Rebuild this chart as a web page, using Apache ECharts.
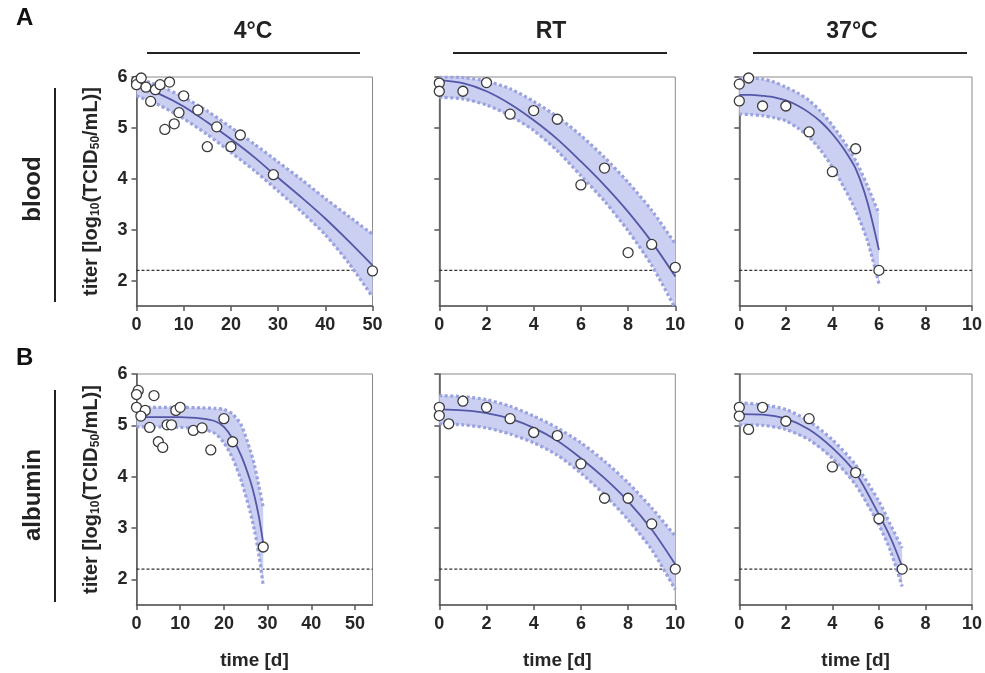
<!DOCTYPE html>
<html><head><meta charset="utf-8">
<script src="https://cdn.jsdelivr.net/npm/echarts@6/dist/echarts.min.js"></script>
<style>html,body{margin:0;padding:0;background:#fff}#c{width:985px;height:673px}</style>
</head><body><div id="c"></div>
<script>
// ---------- data ----------
const LOD = 2.2;
const yTicks = [2, 3, 4, 5, 6];
const xTicks50 = [0, 10, 20, 30, 40, 50];
const xTicks10 = [0, 2, 4, 6, 8, 10];
const rowLabels = ['blood', 'albumin'];
const colLabels = ['4°C', 'RT', '37°C'];

// blood, 4°C
const bl4_t = [0, 0, 1, 2, 3, 4, 5, 6, 7, 8, 9, 10, 13, 15, 17, 20, 22, 29, 50];
const bl4_v = [5.92, 5.85, 5.98, 5.80, 5.52, 5.75, 5.85, 4.97, 5.90, 5.08, 5.30, 5.63, 5.35, 4.63, 5.02, 4.63, 4.86, 4.08, 2.19];
const bl4_fitT = [0, 5, 10, 15, 20, 25, 30, 35, 40, 45, 50];
const bl4_fit = [5.82, 5.66, 5.42, 5.11, 4.78, 4.42, 4.02, 3.63, 3.22, 2.77, 2.30];
const bl4_up = [5.98, 5.82, 5.60, 5.33, 5.01, 4.68, 4.33, 3.98, 3.61, 3.26, 2.91];
const bl4_lo = [5.63, 5.44, 5.18, 4.87, 4.52, 4.16, 3.76, 3.35, 2.90, 2.34, 1.68];

// blood, RT
const blRT_t = [0, 0, 1, 2, 3, 4, 5, 6, 7, 8, 9, 10];
const blRT_v = [5.88, 5.72, 5.72, 5.89, 5.27, 5.34, 5.17, 3.88, 4.21, 2.55, 2.71, 2.26];
const blRT_fitT = [0, 1, 2, 3, 4, 5, 6, 7, 8, 9, 10];
const blRT_fit = [5.94, 5.88, 5.72, 5.47, 5.15, 4.78, 4.34, 3.87, 3.35, 2.76, 2.08];
const blRT_up = [6.0, 5.99, 5.92, 5.77, 5.52, 5.22, 4.85, 4.42, 3.93, 3.38, 2.72];
const blRT_lo = [5.60, 5.57, 5.45, 5.24, 4.95, 4.55, 4.06, 3.56, 2.98, 2.30, 1.45];

// blood, 37°C
const bl37_t = [0, 0.4, 0, 1, 2, 3, 4, 5, 6];
const bl37_v = [5.86, 5.98, 5.53, 5.43, 5.43, 4.92, 4.14, 4.59, 2.20];
const bl37_fitT = [0, 0.5, 1, 1.5, 2, 2.5, 3, 3.5, 4, 4.5, 5, 5.5, 6];
const bl37_fit = [5.65, 5.65, 5.63, 5.60, 5.54, 5.44, 5.30, 5.12, 4.88, 4.58, 4.20, 3.55, 2.60];
const bl37_up = [5.98, 5.98, 5.96, 5.90, 5.80, 5.69, 5.54, 5.32, 5.05, 4.73, 4.36, 3.87, 3.31];
const bl37_lo = [5.27, 5.26, 5.24, 5.20, 5.14, 5.00, 4.82, 4.56, 4.23, 3.83, 3.38, 2.79, 1.94];

// albumin, 4°C
const al4_t = [0.4, 0, 0, 2, 1, 3, 4, 5, 6, 7, 8, 9, 10, 13, 15, 17, 20, 22, 29];
const al4_v = [5.68, 5.60, 5.35, 5.29, 5.18, 4.96, 5.58, 4.68, 4.57, 5.01, 5.01, 5.29, 5.35, 4.90, 4.95, 4.52, 5.13, 4.68, 2.63];
const al4_fitT = [0, 5, 10, 15, 18, 20, 22, 24, 26, 27, 28, 29];
const al4_fit = [5.16, 5.16, 5.16, 5.13, 5.08, 4.97, 4.74, 4.40, 3.93, 3.62, 3.22, 2.70];
const al4_up = [5.35, 5.35, 5.35, 5.34, 5.33, 5.31, 5.22, 5.00, 4.52, 4.22, 3.82, 3.40];
const al4_lo = [4.97, 4.97, 4.96, 4.93, 4.84, 4.66, 4.36, 3.91, 3.32, 2.95, 2.48, 1.88];

// albumin, RT
const alRT_t = [0, 0, 0.4, 1, 2, 3, 4, 5, 6, 7, 8, 9, 10];
const alRT_v = [5.35, 5.19, 5.03, 5.47, 5.35, 5.13, 4.86, 4.80, 4.25, 3.58, 3.58, 3.08, 2.20];
const alRT_fitT = [0, 1, 2, 3, 4, 5, 6, 7, 8, 9, 10];
const alRT_fit = [5.31, 5.29, 5.24, 5.13, 4.95, 4.70, 4.36, 3.97, 3.52, 2.97, 2.29];
const alRT_up = [5.58, 5.56, 5.50, 5.37, 5.18, 4.95, 4.66, 4.30, 3.88, 3.39, 2.84];
const alRT_lo = [5.03, 5.01, 4.95, 4.83, 4.66, 4.42, 4.07, 3.65, 3.16, 2.58, 1.80];

// albumin, 37°C
const al37_t = [0, 0, 0.4, 1, 2, 3, 4, 5, 6, 7];
const al37_v = [5.35, 5.18, 4.92, 5.35, 5.08, 5.13, 4.19, 4.08, 3.18, 2.20];
const al37_fitT = [0, 1, 2, 3, 4, 5, 6, 6.5, 7];
const al37_fit = [5.22, 5.21, 5.13, 4.92, 4.56, 4.07, 3.26, 2.81, 2.25];
const al37_up = [5.44, 5.40, 5.31, 5.08, 4.72, 4.23, 3.52, 3.06, 2.61];
const al37_lo = [5.01, 5.00, 4.92, 4.72, 4.36, 3.84, 3.06, 2.55, 1.86];

// ---------- layout / style ----------
const FONT = '"Liberation Sans", Arial, sans-serif';
const TXT = '#262626';
const colLeft = [136.5, 439.3, 739.3];
const colWidth = 236;
const rowTop = [77, 374];
const rowHeight = [229, 231];
const LINE_C = '#5456a8', BAND_C = '#cbcff1', EDGE_C = '#9aa2df';

const panels = [
  {row: 0, col: 0, t: bl4_t, v: bl4_v, ft: bl4_fitT, fv: bl4_fit, up: bl4_up, lo: bl4_lo, xMax: 50, xTicks: xTicks50},
  {row: 0, col: 1, t: blRT_t, v: blRT_v, ft: blRT_fitT, fv: blRT_fit, up: blRT_up, lo: blRT_lo, xMax: 10, xTicks: xTicks10},
  {row: 0, col: 2, t: bl37_t, v: bl37_v, ft: bl37_fitT, fv: bl37_fit, up: bl37_up, lo: bl37_lo, xMax: 10, xTicks: xTicks10},
  {row: 1, col: 0, t: al4_t, v: al4_v, ft: al4_fitT, fv: al4_fit, up: al4_up, lo: al4_lo, xMax: 54, xTicks: xTicks50},
  {row: 1, col: 1, t: alRT_t, v: alRT_v, ft: alRT_fitT, fv: alRT_fit, up: alRT_up, lo: alRT_lo, xMax: 10, xTicks: xTicks10},
  {row: 1, col: 2, t: al37_t, v: al37_v, ft: al37_fitT, fv: al37_fit, up: al37_up, lo: al37_lo, xMax: 10, xTicks: xTicks10}
];

const grid = [], xAxis = [], yAxis = [], series = [];
const axisLineStyle = {color: '#555', width: 1.5};
const labelStyle = {color: TXT, fontSize: 18, fontWeight: 'bold', fontFamily: FONT};

panels.forEach((p, i) => {
  grid.push({left: colLeft[p.col], top: rowTop[p.row], width: colWidth, height: rowHeight[p.row],
    show: true, borderColor: '#8a8a8a', borderWidth: 1, backgroundColor: 'transparent'});
  xAxis.push({
    gridIndex: i, type: 'value', min: 0, max: p.xMax,
    axisLine: {show: true, onZero: false, lineStyle: axisLineStyle},
    axisTick: {show: true, length: 5, lineStyle: axisLineStyle, customValues: p.xTicks},
    axisLabel: Object.assign({margin: 10, customValues: p.xTicks}, labelStyle),
    splitLine: {show: false},
    name: p.row === 1 ? 'time [d]' : '', nameLocation: 'middle', nameGap: 46,
    nameTextStyle: {color: TXT, fontSize: 19, fontWeight: 'bold', fontFamily: FONT}
  });
  yAxis.push({
    gridIndex: i, type: 'value', min: 1.5, max: 6,
    axisLine: {show: true, onZero: false, lineStyle: axisLineStyle},
    axisTick: {show: true, length: 5, lineStyle: axisLineStyle, customValues: yTicks},
    axisLabel: Object.assign({show: p.col === 0, margin: 9, customValues: yTicks}, labelStyle),
    splitLine: {show: false},
    name: p.col === 0 ? 'titer [log{s|10}(TCID{s|50}/mL)]' : '',
    nameLocation: 'middle', nameGap: 35, nameRotate: 90,
    nameTextStyle: {color: TXT, fontSize: 20, fontWeight: 'bold', fontFamily: FONT,
      rich: {s: {fontSize: 12, fontWeight: 'bold', fontFamily: FONT, color: TXT, verticalAlign: 'bottom', padding: [6, 0, 0, 0]}}}
  });
  const ax = {xAxisIndex: i, yAxisIndex: i};
  // limit of detection
  series.push(Object.assign({type: 'line', data: [[0, LOD], [p.xMax, LOD]], symbol: 'none', silent: true, z: 1,
    lineStyle: {color: '#333', width: 1.2, type: [3, 2]}}, ax));
  // confidence band fill (polygon between upper and lower bounds)
  series.push(Object.assign({type: 'custom', silent: true, z: 2,
    data: [[p.ft[0], p.up[0]]],
    renderItem: function (params, api) {
      const pts = [];
      for (let k = 0; k < p.ft.length; k++) pts.push(api.coord([p.ft[k], p.up[k]]));
      for (let k = p.ft.length - 1; k >= 0; k--) pts.push(api.coord([p.ft[k], p.lo[k]]));
      const cs = params.coordSys;
      return {type: 'polygon',
        shape: {points: echarts.graphic.clipPointsByRect(pts, {x: cs.x, y: cs.y, width: cs.width, height: cs.height})},
        style: {fill: BAND_C}};
    }}, ax));
  // dotted band edges
  [p.up, p.lo].forEach(arr => {
    series.push(Object.assign({type: 'line', data: p.ft.map((t, k) => [t, arr[k]]),
      symbol: 'none', smooth: 0.25, silent: true, z: 3,
      lineStyle: {color: EDGE_C, width: 3.2, type: [3, 2.5]}}, ax));
  });
  // fitted curve
  series.push(Object.assign({type: 'line', data: p.ft.map((t, k) => [t, p.fv[k]]),
    symbol: 'none', smooth: 0.3, silent: true, z: 4,
    lineStyle: {color: LINE_C, width: 1.8}}, ax));
  // measurements
  series.push(Object.assign({type: 'scatter', data: p.t.map((t, k) => [t, p.v[k]]),
    symbolSize: 10, clip: false, z: 5,
    itemStyle: {color: '#fff', borderColor: '#3a3a3a', borderWidth: 1.3, opacity: 1}}, ax));
});

// ---------- annotations ----------
const graphic = [];
const bold = (sz) => 'bold ' + sz + 'px ' + FONT;
graphic.push({type: 'text', left: 16, top: 6, style: {text: 'A', font: bold(24), fill: '#111'}});
graphic.push({type: 'text', left: 16, top: 346, style: {text: 'B', font: bold(24), fill: '#111'}});
const headX = [253, 551, 852];
const headLine = [[147, 360], [453, 667], [753, 967]];
colLabels.forEach((lab, c) => {
  graphic.push({type: 'text', x: headX[c], y: 32, style: {text: lab, font: bold(23), fill: '#222', textAlign: 'center', textVerticalAlign: 'middle'}});
  graphic.push({type: 'line', shape: {x1: headLine[c][0], y1: 53, x2: headLine[c][1], y2: 53}, style: {stroke: '#222', lineWidth: 2}});
});
const rowY = [189, 495];
const rowLine = [[88, 302], [390, 602]];
rowLabels.forEach((lab, r) => {
  graphic.push({type: 'text', x: 33, y: rowY[r], rotation: Math.PI / 2,
    style: {text: lab, font: bold(24), fill: '#222', textAlign: 'center', textVerticalAlign: 'middle'}});
  graphic.push({type: 'line', shape: {x1: 55, y1: rowLine[r][0], x2: 55, y2: rowLine[r][1]}, style: {stroke: '#222', lineWidth: 2}});
});

const chart = echarts.init(document.getElementById('c'));
chart.setOption({animation: false, backgroundColor: '#fff', grid, xAxis, yAxis, series, graphic});
</script></body></html>
